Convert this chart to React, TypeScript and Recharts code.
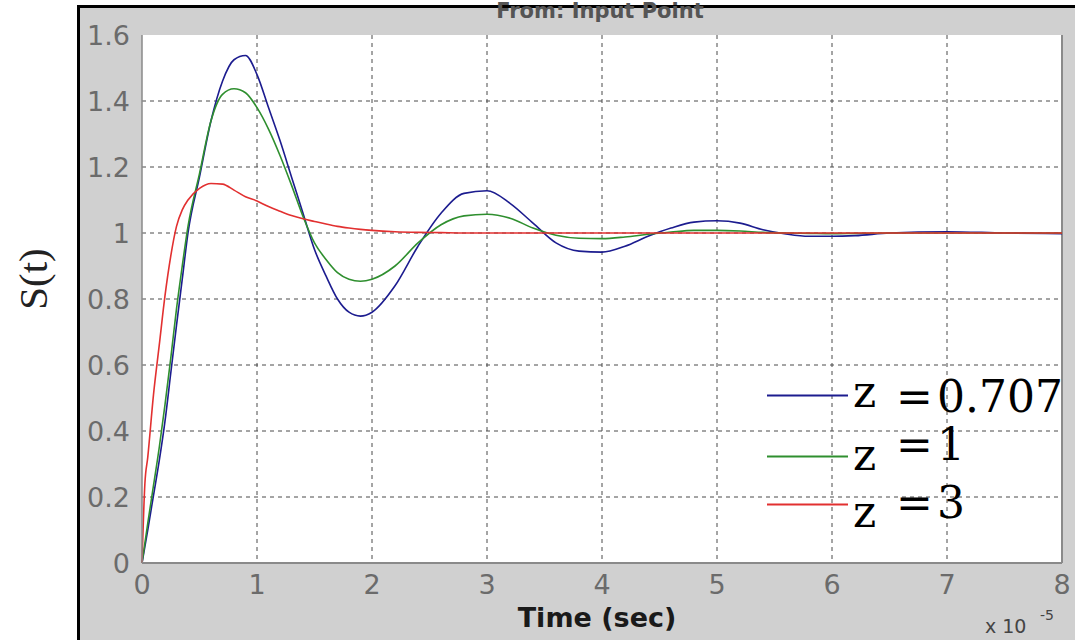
import { CartesianGrid, Line, LineChart, ReferenceLine, XAxis, YAxis } from "recharts";

// time axis in units of 1e-5 s
const time = [
  0, 0.025, 0.05, 0.1, 0.15, 0.2, 0.25, 0.3, 0.35, 0.4, 0.5, 0.6, 0.7, 0.8, 0.9, 1.0, 1.1, 1.2, 1.3, 1.4, 1.5, 1.6,
  1.7, 1.8, 1.9, 2.0, 2.2, 2.4, 2.6, 2.8, 3.0, 3.2, 3.4, 3.6, 3.8, 4.0, 4.2, 4.4, 4.6, 4.8, 5.0, 5.2, 5.4, 5.6, 5.8,
  6.0, 6.2, 6.5, 7.0, 7.5, 8.0
];

const zeta0707 = [
  0, 0.05, 0.1, 0.205, 0.31, 0.43, 0.575, 0.72, 0.86, 1.0, 1.17, 1.34, 1.46, 1.525, 1.538, 1.48, 1.38, 1.28, 1.17,
  1.06, 0.95, 0.87, 0.8, 0.76, 0.748, 0.76, 0.84, 0.96, 1.06, 1.12, 1.128, 1.09, 1.03, 0.97, 0.945, 0.942, 0.96, 0.99,
  1.015, 1.033, 1.037, 1.03, 1.01, 0.997, 0.99, 0.99, 0.992, 1.0, 1.004, 1.0, 0.998
];

const zeta1 = [
  0, 0.06, 0.12, 0.235, 0.35, 0.48, 0.62, 0.77, 0.9, 1.02, 1.18, 1.34, 1.42, 1.437, 1.425, 1.38, 1.315, 1.235, 1.145,
  1.05, 0.97, 0.92, 0.88, 0.86, 0.854, 0.86, 0.9, 0.97, 1.025, 1.052, 1.057, 1.045, 1.015, 0.993, 0.984, 0.983, 0.988,
  0.996, 1.003, 1.008, 1.008, 1.006, 1.002, 1.0, 0.999, 0.998, 0.999, 1.0, 1.0, 1.0, 1.0
];

const zeta3 = [
  0, 0.24, 0.32, 0.51, 0.66, 0.81, 0.93, 1.02, 1.07, 1.1, 1.135, 1.15, 1.148, 1.13, 1.11, 1.097, 1.08, 1.066, 1.053,
  1.043, 1.035, 1.027, 1.02, 1.015, 1.011, 1.008, 1.004, 1.002, 1.001, 1.0, 1.0, 1.0, 1.0, 1.0, 1.0, 1.0, 1.0, 1.0, 1.0,
  1.0, 1.0, 1.0, 1.0, 1.0, 1.0, 1.0, 1.0, 1.0, 1.0, 1.0, 1.0
];

const xTicks = [0, 1, 2, 3, 4, 5, 6, 7, 8];
const yTicks = [0, 0.2, 0.4, 0.6, 0.8, 1, 1.2, 1.4, 1.6];
const gridX = [1, 2, 3, 4, 5, 6, 7];
const gridY = [0.2, 0.4, 0.6, 0.8, 1, 1.2, 1.4];

const legendValues = ["0.707", "1", "3"];

const BLUE = "#1c1c8f";
const GREEN = "#2f8f2f";
const RED = "#e23030";

const rows = time.map((t, i) => ({ t, a: zeta0707[i], b: zeta1[i], c: zeta3[i] }));

const tickStyle = { fontFamily: "DejaVu Sans", fontSize: 27, fill: "#6b6b6b" };

export default function App() {
  return (
    <div
      style={{
        position: "absolute",
        left: 0,
        top: 0,
        width: 1075,
        height: 640,
        overflow: "hidden",
        background: "#fff"
      }}
    >
      <div
        style={{
          position: "absolute",
          left: 77,
          top: 5,
          width: 998,
          height: 635,
          boxSizing: "border-box",
          background: "#d0d0d0",
          borderLeft: "3px solid #000",
          borderTop: "3px solid #000"
        }}
      />
      <div style={{ position: "absolute", left: 0, top: 0 }}>
        <LineChart width={1075} height={640} data={rows} margin={{ top: 35, right: 13, bottom: 47, left: 82 }}>
          <CartesianGrid
            fill="#fff"
            stroke="#4a4a4a"
            strokeDasharray="4 4"
            horizontalValues={gridY}
            verticalValues={gridX}
          />
          <XAxis
            type="number"
            dataKey="t"
            domain={[0, 8]}
            ticks={xTicks}
            interval={0}
            height={30}
            tickLine={false}
            tickSize={6}
            tickMargin={6}
            axisLine={{ stroke: "#8a8a8a", strokeWidth: 2 }}
            tick={tickStyle}
          />
          <YAxis
            type="number"
            domain={[0, 1.6]}
            ticks={yTicks}
            interval={0}
            width={60}
            tickLine={false}
            tickSize={6}
            tickMargin={6}
            axisLine={{ stroke: "#8a8a8a", strokeWidth: 1.5 }}
            tick={tickStyle}
          />
          <ReferenceLine x={8} stroke="#8a8a8a" strokeWidth={2} />
          <Line type="monotone" dataKey="a" stroke={BLUE} strokeWidth={1.6} dot={false} isAnimationActive={false} />
          <Line type="monotone" dataKey="b" stroke={GREEN} strokeWidth={1.6} dot={false} isAnimationActive={false} />
          <Line type="monotone" dataKey="c" stroke={RED} strokeWidth={1.6} dot={false} isAnimationActive={false} />
        </LineChart>
      </div>
      <svg
        width={1075}
        height={640}
        style={{ position: "absolute", left: 0, top: 0, pointerEvents: "none", overflow: "hidden" }}
      >
        <text
          x={600}
          y={18}
          textAnchor="middle"
          fontFamily="DejaVu Sans"
          fontWeight="bold"
          fontSize={21}
          fill="#555"
        >
          From: Input Point
        </text>
        <text
          x={47}
          y={279}
          transform="rotate(-90, 47, 279)"
          textAnchor="middle"
          fontFamily="Liberation Serif"
          fontSize={41}
          fill="#222"
        >
          S(t)
        </text>
        <text x={597} y={627} textAnchor="middle" fontFamily="DejaVu Sans" fontWeight="bold" fontSize={27} fill="#1a1a1a">
          Time (sec)
        </text>
        <text x={985} y={633} fontFamily="DejaVu Sans" fontSize={19} fill="#444">
          x 10
        </text>
        <text x={1040} y={620} fontFamily="DejaVu Sans" fontSize={14} fill="#444">
          -5
        </text>

        {/* legend */}
        <line x1={767} x2={848} y1={395.5} y2={395.5} stroke={BLUE} strokeWidth={2} />
        <text x={853} y={407} fontFamily="DejaVu Serif" fontSize={44} fill="#000">z</text>
        <text x={896} y={412} fontFamily="DejaVu Serif" fontSize={44} fill="#000">=</text>
        <text x={937} y={412} fontFamily="DejaVu Serif" fontSize={44} fill="#000">{legendValues[0]}</text>

        <line x1={767} x2={848} y1={456.5} y2={456.5} stroke={GREEN} strokeWidth={2} />
        <text x={853} y={470} fontFamily="DejaVu Serif" fontSize={44} fill="#000">z</text>
        <text x={896} y={460} fontFamily="DejaVu Serif" fontSize={44} fill="#000">=</text>
        <text x={937} y={460} fontFamily="DejaVu Serif" fontSize={44} fill="#000">{legendValues[1]}</text>

        <line x1={767} x2={848} y1={504.5} y2={504.5} stroke={RED} strokeWidth={2} />
        <text x={853} y={527} fontFamily="DejaVu Serif" fontSize={44} fill="#000">z</text>
        <text x={896} y={518} fontFamily="DejaVu Serif" fontSize={44} fill="#000">=</text>
        <text x={937} y={518} fontFamily="DejaVu Serif" fontSize={44} fill="#000">{legendValues[2]}</text>
      </svg>
    </div>
  );
}
